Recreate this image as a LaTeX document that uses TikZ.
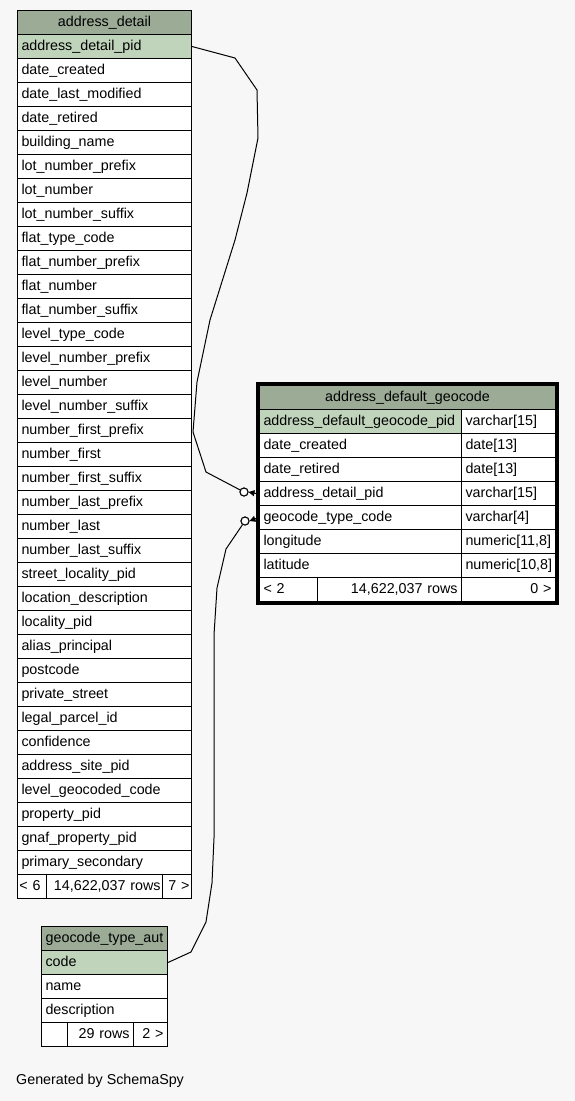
\documentclass[tikz,border=0pt]{standalone}
\usepackage{fontspec}
\setmainfont{Liberation Sans}
\usetikzlibrary{positioning,fit,arrows.meta}
\definecolor{bgcol}{HTML}{F7F7F7}
\definecolor{headcol}{HTML}{9BAB96}
\definecolor{pkcol}{HTML}{BFD4BB}
\tikzset{
	cell/.style={draw, line width=1pt, fill=white, minimum height=24pt,
		inner xsep=4pt, inner ysep=0pt, text height=10.5pt, text depth=3pt,
		anchor=north west, align=left},
	tblhead/.style={cell, fill=headcol, align=center},
	pkrow/.style={cell, fill=pkcol},
	fldrow/.style={cell},
	footcell/.style={cell, align=right},
	fkdot/.style={circle, draw, line width=1pt, fill=white, minimum size=8pt, inner sep=0pt},
	rel/.style={draw, line width=1pt, line join=round}
}

\begin{document}
\begin{tikzpicture}[x=1pt, y=-1pt, font=\fontsize{14.3}{17}\selectfont]
	\fill[bgcol] (0,0) rectangle (575,1101);

	\node[tblhead, text width=166pt] (ad-head) at (17,10) {address\_detail};
	\node[pkrow, text width=166pt] (ad-1) at (17,34) {address\_detail\_pid};
	\foreach \fname [count=\i from 2] in {date\_created, date\_last\_modified, date\_retired,
		building\_name, lot\_number\_prefix, lot\_number, lot\_number\_suffix, flat\_type\_code,
		flat\_number\_prefix, flat\_number, flat\_number\_suffix, level\_type\_code,
		level\_number\_prefix, level\_number, level\_number\_suffix, number\_first\_prefix,
		number\_first, number\_first\_suffix, number\_last\_prefix, number\_last,
		number\_last\_suffix, street\_locality\_pid, location\_description, locality\_pid,
		alias\_principal, postcode, private\_street, legal\_parcel\_id, confidence,
		address\_site\_pid, level\_geocoded\_code, property\_pid, gnaf\_property\_pid,
		primary\_secondary}
		\node[fldrow, text width=166pt] (ad-\i) at (17,10+24*\i) {\fname};
	\node[cell, inner xsep=2pt, text width=25pt] (ad-foot1) at (17,874) {< 6};
	\node[footcell, inner xsep=2pt, text width=112pt] (ad-foot2) at (46,874) {14,622,037 rows};
	\node[footcell, inner xsep=2pt, text width=25pt] (ad-foot3) at (162,874) {7 >};

	\node[tblhead, text width=288pt] (geo-head) at (259,385) {address\_default\_geocode};
	\node[pkrow, text width=194pt] (geo-n1) at (259,409) {address\_default\_geocode\_pid};
	\node[fldrow, text width=86pt] (geo-t1) at (461,409) {varchar[15]};
	\foreach \fname/\ftype [count=\i from 2] in {date\_created/date[13], date\_retired/date[13],
		address\_detail\_pid/varchar[15], geocode\_type\_code/varchar[4],
		longitude/{numeric[11,8]}, latitude/{numeric[10,8]}}
	{
		\node[fldrow, text width=194pt] (geo-n\i) at (259,385+24*\i) {\fname};
		\node[fldrow, text width=86pt] (geo-t\i) at (461,385+24*\i) {\ftype};
	}
	\node[cell, text width=50pt] (geo-foot1) at (259,577) {< 2};
	\node[footcell, text width=136pt] (geo-foot2) at (317,577) {14,622,037 rows};
	\node[footcell, text width=86pt] (geo-foot3) at (461,577) {0 >};
	\node[draw, line width=3pt, inner sep=1.5pt, fit=(geo-head)(geo-foot3)] (geo-box) {};

	\node[tblhead, text width=118pt] (gt-head) at (41,926) {geocode\_type\_aut};
	\node[pkrow, text width=118pt] (gt-1) at (41,950) {code};
	\node[fldrow, text width=118pt] (gt-2) at (41,974) {name};
	\node[fldrow, text width=118pt] (gt-3) at (41,998) {description};
	\node[cell, text width=18pt] (gt-foot1) at (41,1022) {};
	\node[footcell, text width=58pt] (gt-foot2) at (67,1022) {29 rows};
	\node[footcell, text width=26pt] (gt-foot3) at (133,1022) {2 >};

	\node[fkdot] (fk1) at (244,492) {};
	\node[fkdot] (fk2) at (245,521) {};
	\coordinate (end1) at ([xshift=-3pt]geo-n4.west);
	\coordinate (end2) at ([xshift=-3pt,yshift=-1pt]geo-n5.west);

	\draw[rel] (ad-1.east) -- (235,58) -- (257,90) -- (258,138) -- (247,193) -- (235,240)
		-- (210,320) -- (197,382) -- (193,432) -- (206,472) -- (fk1);
	\draw[rel] (gt-1.east) -- (191,952) -- (206,922) -- (212,883) -- (214,838) -- (214,635)
		-- (217,588) -- (226,549) -- (fk2);
	\draw[line width=1pt, {Triangle[length=6pt,width=6pt]}-] (fk1.east) -- (end1);
	\draw[line width=1pt, {Triangle[length=6pt,width=6pt]}-] (fk2.east) -- (end2);
	\node[fkdot] at (fk1) {};
	\node[fkdot] at (fk2) {};

	\node[anchor=west, inner sep=0pt] (gen) at (16,1081) {Generated by SchemaSpy};
\end{tikzpicture}
\end{document}
